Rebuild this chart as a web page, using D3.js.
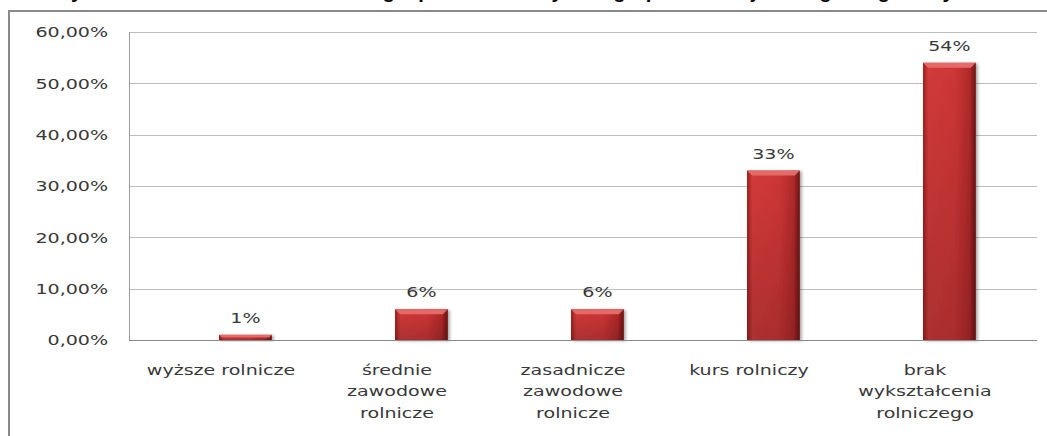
<!DOCTYPE html>
<html>
<head>
    <meta charset="utf-8">
    <title>Wykształcenie rolnicze</title>
    <style type="text/css">
        body { margin: 0; background: #fff; }
        .axis text, .val-label {
            font-family: "DejaVu Sans", Verdana, sans-serif;
            font-size: 14px;
            fill: #383838;
        }
        .grid line { stroke: #bdbdbd; stroke-width: 1; }
    </style>
</head>
<body>
<svg id="chart" width="1047" height="436"></svg>

<script src="https://cdnjs.cloudflare.com/ajax/libs/d3/7.8.5/d3.min.js"></script>
<script type="text/javascript">
    /*=========DATA=========*/
    var title = "Wykształcenie rolnicze właścicieli gospodarstw rolnych w grupie badanej według kategorii wykształcenia rolniczego";
    var categories = [
        "wyższe rolnicze",
        "średnie\nzawodowe\nrolnicze",
        "zasadnicze\nzawodowe\nrolnicze",
        "kurs rolniczy",
        "brak\nwykształcenia\nrolniczego"
    ];
    var values = [1, 6, 6, 33, 54];
    var valueLabels = ["1%", "6%", "6%", "33%", "54%"];
    var yTicks = [0, 10, 20, 30, 40, 50, 60];

    /*=========SIZE=========*/
    var svgWidth = 1047, svgHeight = 436;
    var plot = { left: 129, right: 1037, top: 32, bottom: 340 };
    var stretch = 1.36; // the source picture is stretched sideways

    var svg = d3.select('#chart');

    // gradients for the bevelled bars
    var defs = svg.append('defs');
    var lg = defs.append('linearGradient').attr('id', 'barGrad').attr('x1', '0%').attr('x2', '100%');
    lg.append('stop').attr('offset', '0%').attr('stop-color', '#9c2020');
    lg.append('stop').attr('offset', '10%').attr('stop-color', '#d23a3a');
    lg.append('stop').attr('offset', '60%').attr('stop-color', '#cf3636');
    lg.append('stop').attr('offset', '88%').attr('stop-color', '#b22a2a');
    lg.append('stop').attr('offset', '100%').attr('stop-color', '#6e1212');
    var vg = defs.append('linearGradient').attr('id', 'shadeGrad').attr('x1', '0').attr('x2', '0').attr('y1', '0').attr('y2', '1');
    vg.append('stop').attr('offset', '0%').attr('stop-color', '#000').attr('stop-opacity', 0);
    vg.append('stop').attr('offset', '100%').attr('stop-color', '#000').attr('stop-opacity', 0.18);
    var sh = defs.append('filter').attr('id', 'shadow').attr('x', '-20%').attr('y', '-20%').attr('width', '150%').attr('height', '150%');
    sh.append('feDropShadow').attr('dx', 2).attr('dy', 1).attr('stdDeviation', 1.5)
        .attr('flood-color', '#000').attr('flood-opacity', 0.35);

    // outer frame (cut off on right and bottom)
    svg.append('rect')
        .attr('x', 9).attr('y', 11)
        .attr('width', svgWidth + 20).attr('height', svgHeight + 20)
        .attr('fill', 'none').attr('stroke', '#8a8a8a').attr('stroke-width', 2);

    // title, clipped by the top edge as in the source
    svg.append('text')
        .attr('transform', 'translate(610,-2) scale(1.12,1)')
        .attr('text-anchor', 'middle')
        .style('font-family', '"Liberation Sans", Arial, sans-serif')
        .style('font-weight', 'bold')
        .style('font-size', '18px')
        .attr('fill', '#000')
        .text(title);

    /*=========SCALES=========*/
    var yScale = d3.scaleLinear().domain([0, 60]).range([plot.bottom, plot.top]);
    var xScale = d3.scaleBand().domain(categories).range([133, 1013]).paddingInner(0).paddingOuter(0);
    var barWidth = xScale.bandwidth() * 0.3;

    // grid lines
    svg.append('g').attr('class', 'grid')
        .selectAll('line').data(yTicks.filter(d => d > 0)).enter()
        .append('line')
        .attr('x1', plot.left).attr('x2', plot.right)
        .attr('y1', d => Math.round(yScale(d)) + 0.5)
        .attr('y2', d => Math.round(yScale(d)) + 0.5);

    // y axis
    var yAxis = d3.axisLeft(yScale)
        .tickValues(yTicks)
        .tickSize(0)
        .tickPadding(21)
        .tickFormat(d => d3.format('.2f')(d).replace('.', ',') + '%');
    var gy = svg.append('g').attr('class', 'axis')
        .attr('transform', 'translate(' + plot.left + ',0)')
        .call(yAxis);
    gy.select('.domain').remove();
    gy.selectAll('.tick text')
        .attr('x', null).attr('dy', '0.35em')
        .attr('transform', 'translate(-21,0) scale(' + stretch + ',1)');
    svg.append('line')
        .attr('x1', plot.left + 0.5).attr('x2', plot.left + 0.5)
        .attr('y1', plot.top).attr('y2', plot.bottom)
        .attr('stroke', '#9a9a9a');

    // x axis (labels wrap on \n)
    var gx = svg.append('g').attr('class', 'axis');
    gx.selectAll('text').data(categories).enter()
        .append('text')
        .attr('text-anchor', 'middle')
        .attr('transform', d => 'translate(' + (xScale(d) + xScale.bandwidth() / 2) + ',375) scale(' + stretch + ',1)')
        .each(function(d) {
            var t = d3.select(this);
            d.split('\n').forEach(function(line, i) {
                t.append('tspan')
                    .attr('x', 0)
                    .attr('dy', i === 0 ? 0 : 21.5)
                    .text(line);
            });
        });

    // bars
    var bars = svg.append('g').selectAll('g').data(values).enter().append('g')
        .attr('filter', 'url(#shadow)');
    var bx = (d, i) => xScale(categories[i]) + xScale.bandwidth() / 2 - 2;
    bars.append('rect')
        .attr('x', bx)
        .attr('y', d => yScale(d))
        .attr('width', barWidth)
        .attr('height', d => plot.bottom - yScale(d))
        .attr('fill', 'url(#barGrad)');
    bars.append('rect')
        .attr('x', bx)
        .attr('y', d => yScale(d))
        .attr('width', barWidth)
        .attr('height', d => plot.bottom - yScale(d))
        .attr('fill', 'url(#shadeGrad)');
    // top bevel highlight
    bars.append('path')
        .attr('d', function(d, i) {
            var x0 = bx(d, i), y0 = yScale(d), w = barWidth;
            var b = Math.min(5, (plot.bottom - y0) / 2);
            return 'M' + x0 + ',' + y0 + 'L' + (x0 + w) + ',' + y0 +
                   'L' + (x0 + w - b) + ',' + (y0 + b) + 'L' + (x0 + b) + ',' + (y0 + b) + 'Z';
        })
        .attr('fill', '#e46a6a');

    // bottom axis line
    svg.append('line')
        .attr('x1', plot.left).attr('x2', plot.right)
        .attr('y1', plot.bottom + 0.5).attr('y2', plot.bottom + 0.5)
        .attr('stroke', '#8a8a8a');

    // value labels
    svg.append('g').selectAll('text').data(values).enter()
        .append('text')
        .attr('class', 'val-label')
        .attr('text-anchor', 'middle')
        .attr('transform', (d, i) => 'translate(' + (bx(d, i) + barWidth / 2) + ',' + (yScale(d) - 12) + ') scale(' + stretch + ',1)')
        .text((d, i) => valueLabels[i]);
</script>
</body>
</html>
